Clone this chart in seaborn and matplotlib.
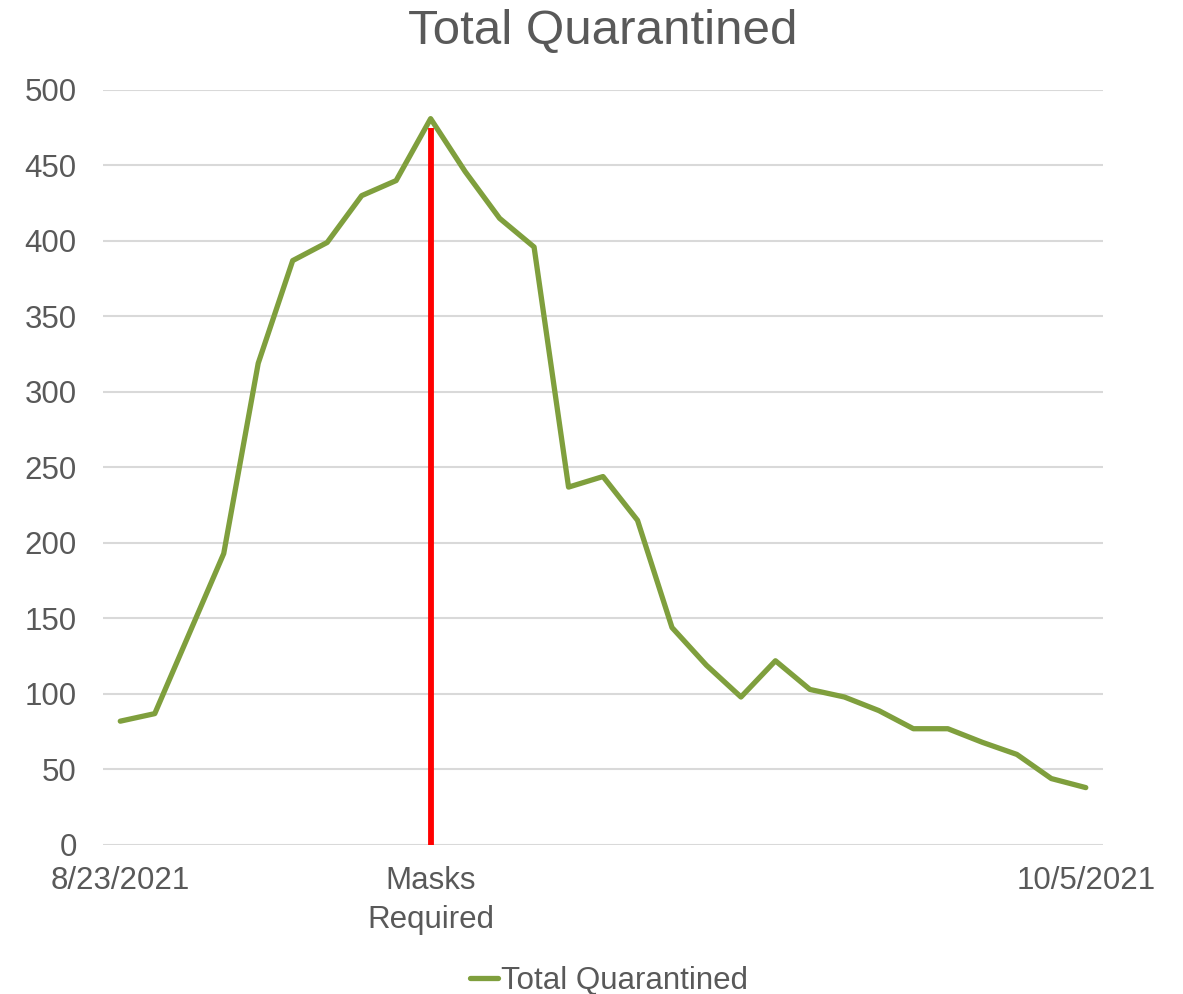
import matplotlib
matplotlib.use("Agg")
import matplotlib.pyplot as plt
import seaborn as sns
import pandas as pd
import numpy as np

values = [82, 87, 140, 193, 319, 387, 399, 430, 440, 481, 446, 415, 396,
          237, 244, 215, 144, 119, 98, 122, 103, 98, 89, 77, 77, 68, 60, 44, 38]
tick_positions = [0, 9, 28]
tick_labels = ["8/23/2021", "Masks\nRequired", "10/5/2021"]
mask_index = 9
mask_line_top = 475
series_name = "Total Quarantined"

sns.set_theme(style="white")
plt.rcParams['font.family'] = ['Liberation Sans', 'DejaVu Sans']
text_color = "#595959"

df = pd.DataFrame({"idx": np.arange(len(values)), "val": values})

fig = plt.figure(figsize=(11.83, 9.94), dpi=100)
ax = fig.add_axes([0.0871, 0.1499, 0.8453, 0.7596])

sns.lineplot(data=df, x="idx", y="val", ax=ax, color="#7F9F3D", linewidth=3.8,
             label=series_name, zorder=3)
ax.vlines(x=mask_index, ymin=0, ymax=mask_line_top, colors="#FF0000", linewidth=4.2, zorder=4)

ax.set_xlim(-0.5, len(values) - 0.5)
ax.set_ylim(0, 500)
ax.set_yticks(np.arange(0, 501, 50))
ax.set_xticks(tick_positions)
ax.set_xticklabels(tick_labels, fontsize=22.5, color=text_color, linespacing=1.4)
ax.tick_params(axis='y', labelsize=22.5, colors=text_color, length=0, pad=19)
ax.tick_params(axis='x', length=0, pad=15)
for lbl in ax.get_yticklabels():
    lbl.set_color(text_color)
ax.yaxis.grid(True, color="#D9D9D9", linewidth=1.5)
ax.xaxis.grid(False)
for s in ax.spines.values():
    s.set_visible(False)
ax.set_xlabel("")
ax.set_ylabel("")
ax.set_title(series_name, fontsize=35.5, color=text_color, pad=33)

ax.get_legend().remove()
handles, labels = ax.get_legend_handles_labels()
fig.legend(handles[:1], labels[:1], loc="lower center", bbox_to_anchor=(0.515, -0.03),
           frameon=False, fontsize=22.5, handlelength=0.9, handletextpad=0.1,
           labelcolor=text_color)

fig.savefig("out.png", dpi=100)
